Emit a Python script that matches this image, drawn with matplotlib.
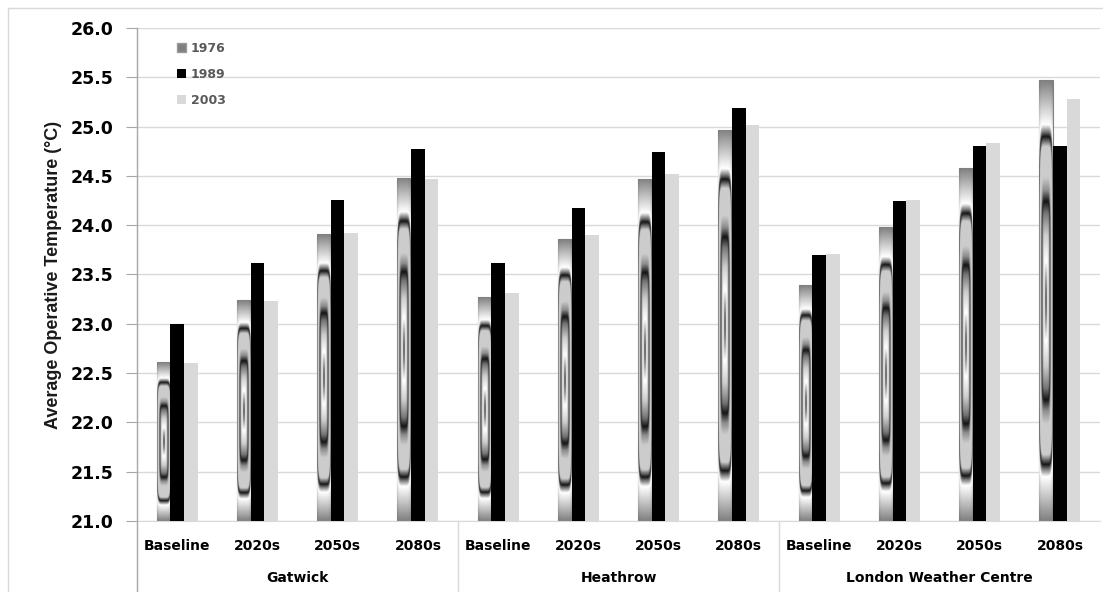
import numpy as np
import matplotlib
matplotlib.use('Agg')
import matplotlib.pyplot as plt
from matplotlib.patches import Patch
from matplotlib.lines import Line2D

plt.rcParams['font.family'] = ['DejaVu Sans']

stations = ['Gatwick', 'Heathrow', 'London Weather Centre']
periods = ['Baseline', '2020s', '2050s', '2080s']
years = ['1976', '1989', '2003']

# average operative temperature, one value per station/period, in order
temp_1976 = [22.61, 23.24, 23.91, 24.48,
             23.27, 23.86, 24.47, 24.97,
             23.39, 23.98, 24.58, 25.47]
temp_1989 = [23.00, 23.62, 24.26, 24.77,
             23.62, 24.17, 24.74, 25.19,
             23.70, 24.25, 24.80, 24.80]
temp_2003 = [22.60, 23.23, 23.92, 24.47,
             23.31, 23.90, 24.52, 25.02,
             23.71, 24.26, 24.83, 25.28]

y_min, y_max = 21.0, 26.0
yticks = np.arange(21.0, 26.01, 0.5)


def ring_texture(nx=60, ny=600, p=6.0, squash=0.75):
    # concentric rounded-rectangle rings, used as a stretched picture fill
    u = np.linspace(-1, 1, nx)
    v = np.linspace(-1, 1, ny)
    U, V = np.meshgrid(u, v)
    r = (np.abs(squash * U) ** p + np.abs(V) ** p) ** (1.0 / p)
    rk = [0.00, 0.06, 0.18, 0.30, 0.40, 0.45, 0.50, 0.56, 0.70, 0.745, 0.765, 0.80, 1.00]
    gk = [0.20, 0.45, 1.00, 0.80, 0.45, 0.08, 0.55, 0.80, 0.80, 0.08, 0.45, 1.00, 0.50]
    return np.interp(r, rk, gk)


W, H = 1103, 592
fig = plt.figure(figsize=(W / 100, H / 100), dpi=100)
ax = fig.add_axes([137 / W, 1 - 521 / H, 963 / W, (521 - 28) / H])

x = np.arange(len(temp_1976))
bw = 0.17
tex = ring_texture()

bars76 = ax.bar(x - bw, np.array(temp_1976) - y_min, bw, bottom=y_min,
                color='#c8c8c8', edgecolor='#808080', linewidth=0.8, zorder=2)
ax.bar(x, np.array(temp_1989) - y_min, bw, bottom=y_min, color='black', zorder=3)
ax.bar(x + bw, np.array(temp_2003) - y_min, bw, bottom=y_min, color='#d9d9d9', zorder=2)

for b in bars76:
    x0, y0 = b.get_x(), b.get_y()
    im = ax.imshow(tex, cmap='gray', vmin=0, vmax=1, aspect='auto',
                   extent=(x0, x0 + b.get_width(), y0, y0 + b.get_height()),
                   interpolation='bilinear', zorder=2.5)
    im.set_clip_path(b)

ax.set_xlim(-0.5, len(x) - 0.5)
ax.set_ylim(y_min, y_max)
ax.set_yticks(yticks)
ax.set_yticklabels([f'{t:.1f}' for t in yticks], fontsize=12.5, fontweight='bold')
ax.yaxis.grid(True, color='#d9d9d9', linewidth=1.0, zorder=0)
ax.set_axisbelow(True)
ax.tick_params(axis='y', length=8, color='#a6a6a6', pad=9)
ax.set_xticks([])

for s in ['top', 'right']:
    ax.spines[s].set_visible(False)
ax.spines['bottom'].set_color('#d9d9d9')
ax.spines['left'].set_visible(False)

ax.set_ylabel('Average Operative Temperature (°C)', family='Liberation Sans',
              fontsize=13, fontweight='bold', color='#1a1a1a', labelpad=6)

# y axis line carried down through the category labels
fig.add_artist(Line2D([137 / W, 137 / W], [0, 1 - 28 / H], color='#a6a6a6', lw=1.0))

# two-level category labels
lab_tr = ax.get_xaxis_transform()
for i, xi in enumerate(x):
    ax.text(xi, -0.05, periods[i % len(periods)], transform=lab_tr,
            ha='center', va='center', fontsize=10, fontweight='bold', clip_on=False)
for k, name in enumerate(stations):
    mid = k * len(periods) + (len(periods) - 1) / 2
    ax.text(mid, -0.115, name, transform=lab_tr, ha='center', va='center',
            fontsize=10, fontweight='bold', clip_on=False)
    if k > 0:
        xs = k * len(periods) - 0.5
        ax.add_line(Line2D([xs, xs], [0, -0.15], transform=lab_tr, color='#d9d9d9',
                           lw=1.0, clip_on=False))

# outer chart border
fig.add_artist(Line2D([8 / W, 8 / W], [0, 1 - 8 / H], color='#d9d9d9', lw=1.0))
fig.add_artist(Line2D([8 / W, 1], [1 - 8 / H, 1 - 8 / H], color='#d9d9d9', lw=1.0))

handles = [Patch(facecolor='#7f7f7f', edgecolor='#9a9a9a'),
           Patch(facecolor='black'),
           Patch(facecolor='#d9d9d9')]
ax.legend(handles, years, loc='upper left', bbox_to_anchor=(0.03, 0.995),
          frameon=False, handlelength=0.7, handleheight=0.7, handletextpad=0.4,
          labelspacing=1.05, labelcolor='#595959',
          prop={'size': 9, 'weight': 'bold'})

fig.savefig('out.png', dpi=100)
